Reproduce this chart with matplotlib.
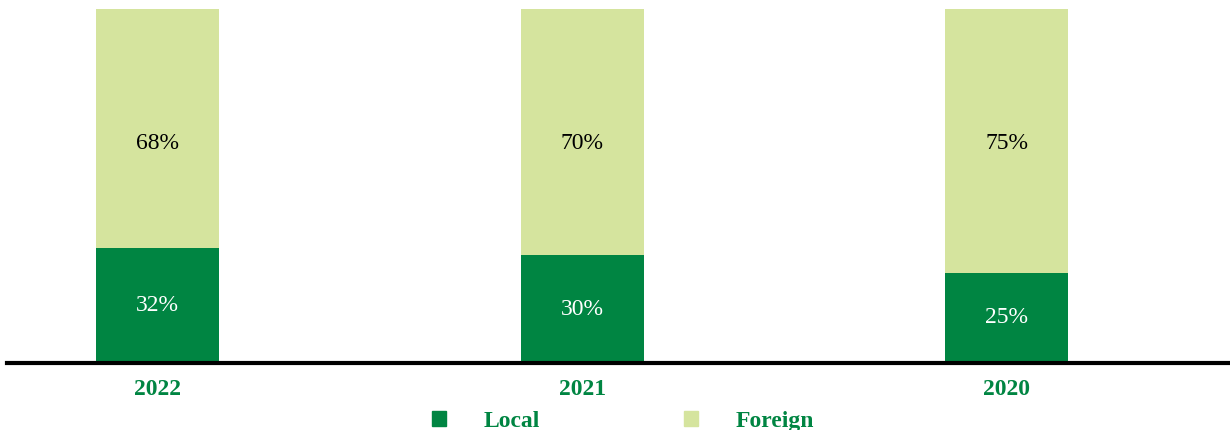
import matplotlib.pyplot as plt
from matplotlib.patches import Patch

YEARS = ["2022", "2021", "2020"]
LOCAL = [32, 30, 25]
FOREIGN = [68, 70, 75]

DARK = "#008542"
LIGHT = "#D5E49E"
FOREIGN_LABEL_Y = 62.2  # foreign labels sit at the same height

plt.rcParams["font.family"] = ["Liberation Serif", "DejaVu Serif"]


def main():
    fig = plt.figure(figsize=(12.3, 4.31), dpi=100)
    ax = fig.add_axes([7 / 1230, 1 - 362 / 431, 1 - 7 / 1230, 352 / 431])

    # spine position first, it resets the tick settings
    for s in ["top", "right", "left"]:
        ax.spines[s].set_visible(False)
    ax.spines["bottom"].set_position(("outward", 1.5))
    ax.spines["bottom"].set_linewidth(3)
    ax.spines["bottom"].set_color("black")

    x = list(range(len(YEARS)))
    ax.bar(x, LOCAL, width=0.29, color=DARK, label="Local")
    ax.bar(x, FOREIGN, width=0.29, bottom=LOCAL, color=LIGHT, label="Foreign")

    for i in x:
        ax.text(i, LOCAL[i] / 2, f"{LOCAL[i]}%", ha="center", va="center",
                color="white", fontsize=17)
        ax.text(i, FOREIGN_LABEL_Y, f"{FOREIGN[i]}%", ha="center", va="center",
                color="black", fontsize=17)

    ax.set_xlim(-0.3545, 2.526)
    ax.set_ylim(0, 100)
    ax.set_xticks(x)
    ax.set_xticklabels(YEARS, fontsize=17, fontweight="bold", color=DARK)
    ax.tick_params(axis="x", length=0, pad=10.5)
    ax.set_yticks([])

    handles = [Patch(color=DARK), Patch(color=LIGHT)]
    leg = fig.legend(handles, ["Local", "Foreign"], loc="center",
                     bbox_to_anchor=(623 / 1230, 9 / 431), ncol=2, frameon=False,
                     prop={"size": 17, "weight": "bold"},
                     handlelength=0.6, handleheight=0.6, handletextpad=1.6,
                     columnspacing=6.1)
    for t in leg.get_texts():
        t.set_color(DARK)

    fig.savefig("out.png", dpi=100)
    plt.close(fig)


if __name__ == "__main__":
    main()
